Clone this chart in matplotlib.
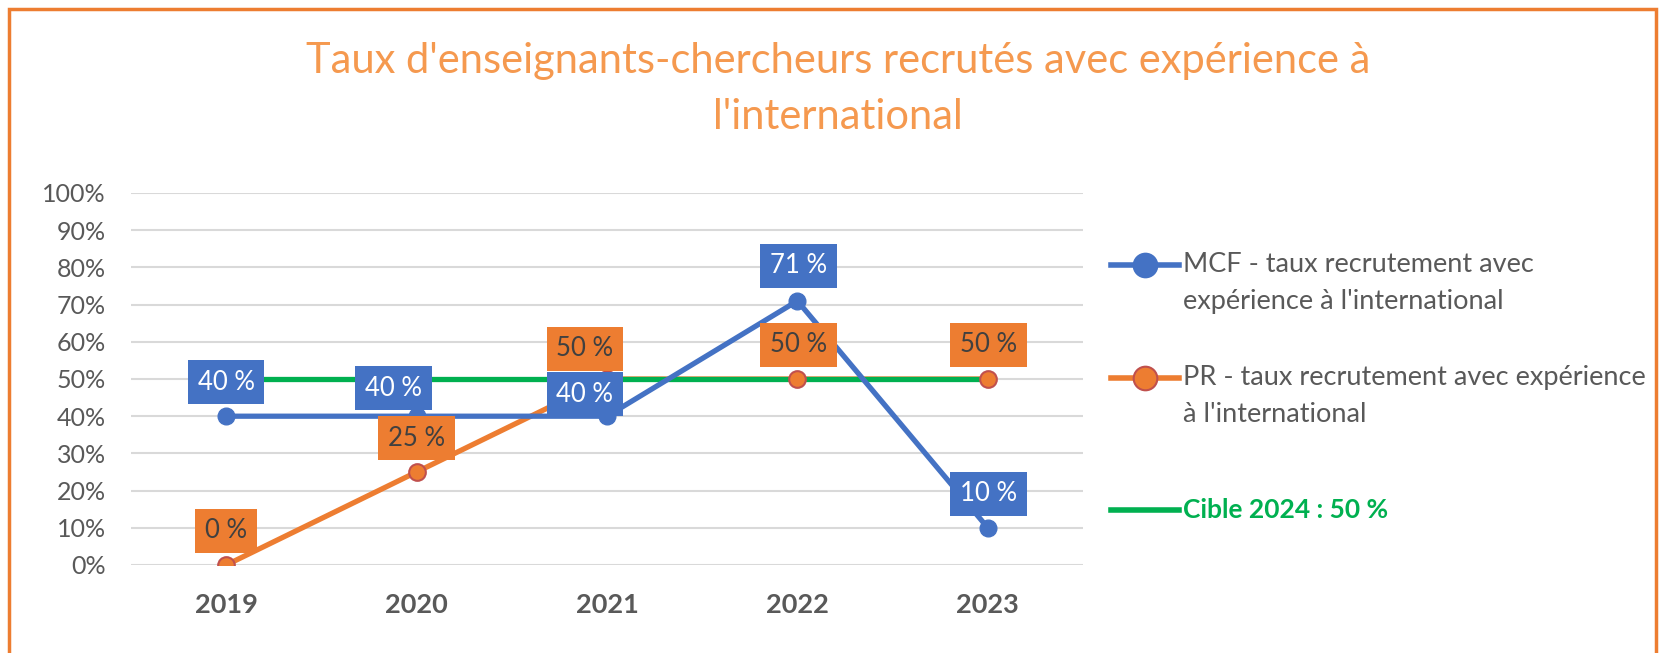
import matplotlib.pyplot as plt
from matplotlib.lines import Line2D
from matplotlib.patches import Rectangle
from matplotlib.ticker import PercentFormatter

plt.rcParams['font.family'] = ['Lato', 'DejaVu Sans']

years = ['2019', '2020', '2021', '2022', '2023']
mcf = [40, 40, 40, 71, 10]
pr = [0, 25, 50, 50, 50]
cible = [50, 50, 50, 50, 50]

blue = '#4472C4'
orange = '#ED7D31'
green = '#00B050'
grey = '#595959'


def main():
    fig = plt.figure(figsize=(16.61, 6.53), dpi=100)
    ax = fig.add_axes([131 / 1661, 88 / 653, 952 / 1661, 372 / 653])

    x = range(len(years))
    # orange line sits under the target line, its markers above
    ax.plot(x, pr, color=orange, lw=3.8, zorder=2)
    ax.plot(x, cible, color=green, lw=3.8, zorder=3, solid_capstyle='butt')
    ax.plot(x, mcf, color=blue, lw=3.8, marker='o', ms=12, mfc=blue, mec=blue, zorder=4)
    ax.plot(x, pr, ls='none', marker='o', ms=12, mfc=orange, mec='#C0504D',
            mew=1.5, zorder=5)

    # data labels, offsets in pixels from the point
    mcf_off = [(0, 34), (-23, 28), (-22, 22), (1, 35), (1, 34)]
    pr_off = [(0, 34), (0, 34), (-22, 30), (1, 34), (1, 34)]
    for i in x:
        ax.annotate(f'{pr[i]} %', (i, pr[i]), xytext=pr_off[i], textcoords='offset pixels',
                    ha='center', va='center', fontsize=18.5, color='#404040', zorder=6,
                    bbox=dict(boxstyle='square,pad=0.38', fc=orange, ec='none'))
        ax.annotate(f'{mcf[i]} %', (i, mcf[i]), xytext=mcf_off[i], textcoords='offset pixels',
                    ha='center', va='center', fontsize=18.5, color='white', zorder=7,
                    bbox=dict(boxstyle='square,pad=0.38', fc=blue, ec='none'))

    ax.set_xlim(-0.5, len(years) - 0.5)
    ax.set_ylim(0, 100)
    ax.set_yticks(range(0, 101, 10))
    ax.yaxis.set_major_formatter(PercentFormatter(decimals=0))
    ax.set_xticks(list(x))
    ax.set_xticklabels(years, fontweight='bold')
    ax.tick_params(length=0, labelcolor=grey)
    ax.tick_params(axis='x', labelsize=19.5, pad=20)
    ax.tick_params(axis='y', labelsize=18, pad=18)
    ax.grid(axis='y', color='#D9D9D9', lw=1.5)
    ax.set_axisbelow(True)
    for s in ax.spines.values():
        s.set_visible(False)

    fig.text(838 / 1661, 1 - 89 / 653,
             "Taux d'enseignants-chercheurs recrutés avec expérience à\nl'international",
             ha='center', va='center', fontsize=30, color='#F5994F', linespacing=1.55)

    # legend drawn by hand to match the original layout (handle on the first text line)
    def fy(py):
        return 1 - py / 653
    entries = [
        (265, ["MCF - taux recrutement avec", "expérience à l'international"],
         blue, blue, blue, grey, 'normal'),
        (378, ["PR - taux recrutement avec expérience", "à l'international"],
         orange, orange, '#C0504D', grey, 'normal'),
        (510, ["Cible 2024 : 50 %"], green, None, None, green, 'bold'),
    ]
    for py, lines, lc, mfc, mec, tc, fw in entries:
        fig.add_artist(Line2D([1111 / 1661, 1179 / 1661], [fy(py), fy(py)], color=lc, lw=4))
        if mfc:
            fig.add_artist(Line2D([1145 / 1661], [fy(py)], marker='o', ms=17,
                                  mfc=mfc, mec=mec, mew=1.5))
        for k, line in enumerate(lines):
            fig.text(1183 / 1661, fy(py + 37 * k), line, ha='left', va='center',
                     fontsize=19.5 if fw == 'normal' else 19, color=tc, fontweight=fw)

    fig.add_artist(Rectangle((9 / 1661, -0.05), 1647 / 1661, 1.05 - 9 / 653,
                             transform=fig.transFigure, fill=False, ec=orange, lw=2.5))

    fig.savefig('out.png', dpi=100)


if __name__ == '__main__':
    main()
